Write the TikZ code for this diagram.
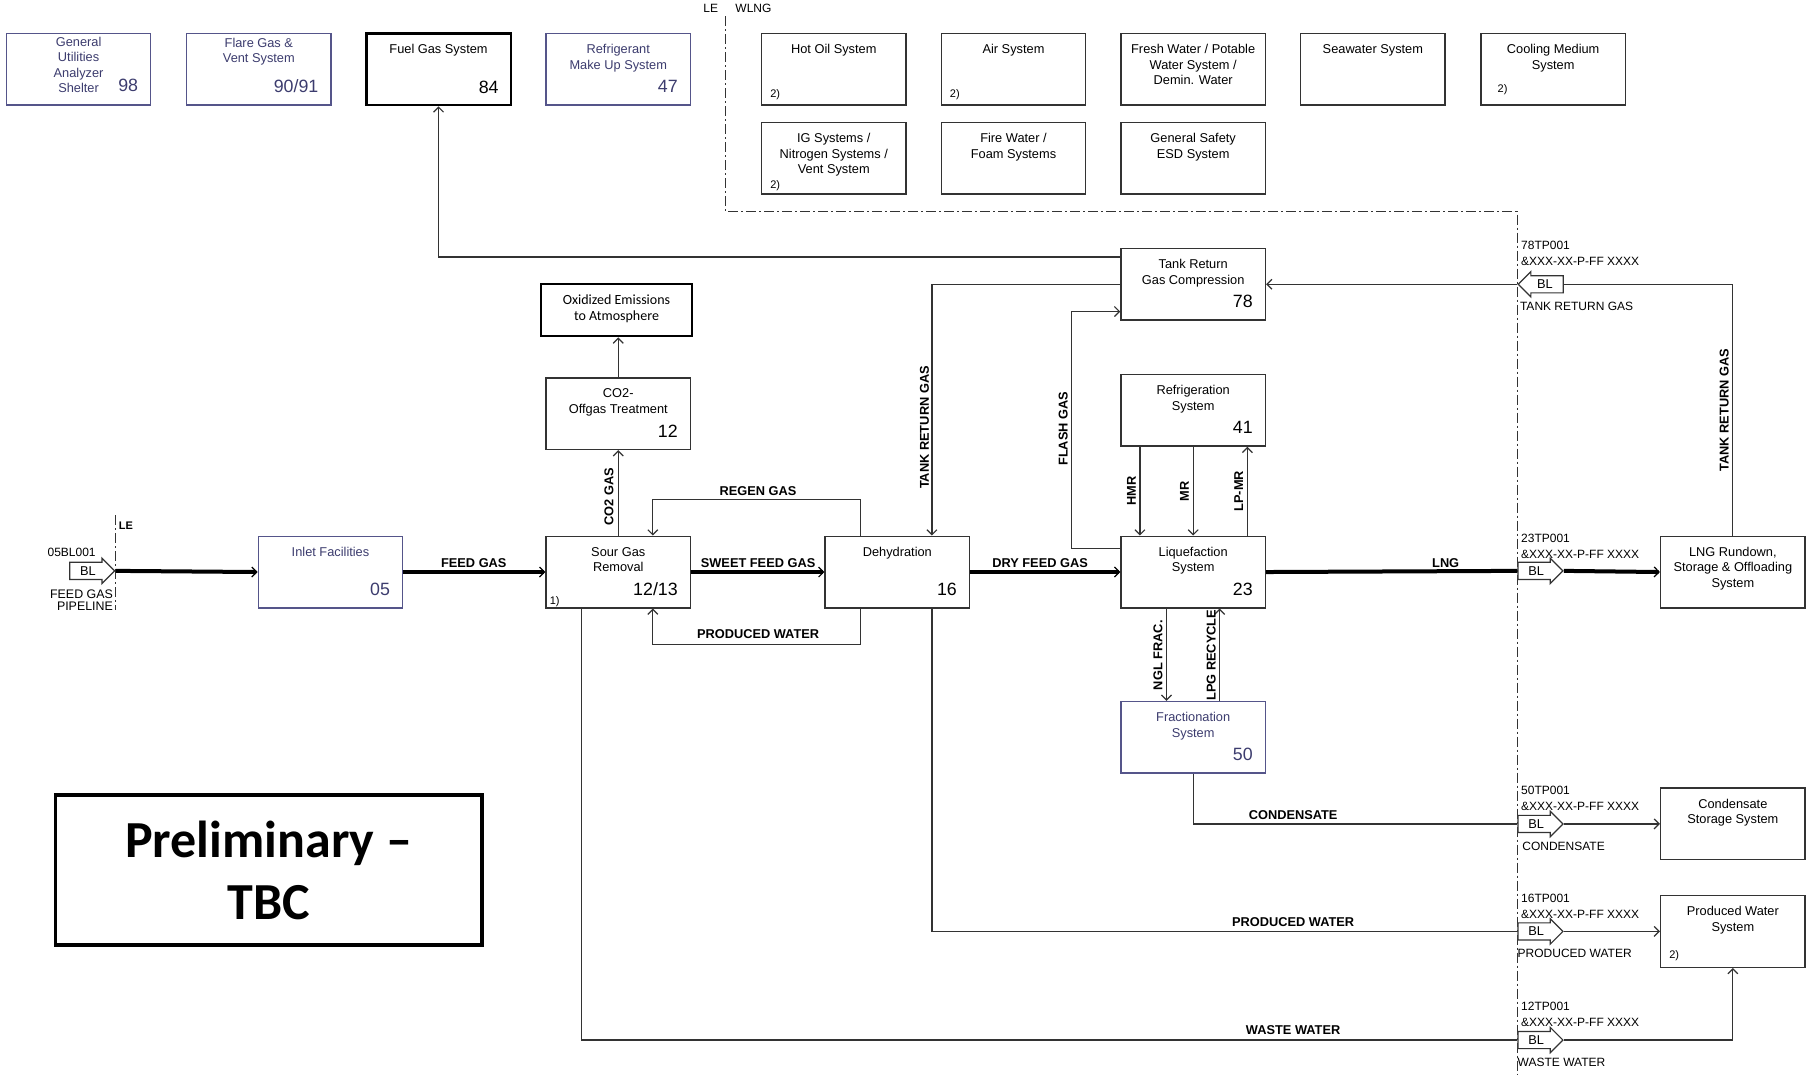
\documentclass[tikz,border=0pt]{standalone}
\usepackage{fontspec}
\setmainfont{Liberation Sans}
\newfontfamily\calfont{Carlito}
\usetikzlibrary{arrows.meta,calc,shapes.arrows}
\definecolor{ln}{HTML}{333333}
\definecolor{bluec}{HTML}{55558A}
\definecolor{bluetxt}{HTML}{3C3C6E}
\tikzset{
  box/.style={draw=ln, line width=0.7pt, minimum width=72.2pt, minimum height=35.8pt, inner sep=0pt},
  bluebox/.style={box, draw=bluec},
  heavybox/.style={box, draw=black, line width=1.2pt},
  ttl/.style={font=\fontsize{6.4}{7.7}\selectfont, align=center, inner sep=0pt, anchor=north},
  num/.style={font=\fontsize{8.9}{10}\selectfont, inner sep=0pt, anchor=base east},
  note/.style={font=\fontsize{5.5}{6}\selectfont, inner sep=0pt, anchor=base west},
  conn/.style={draw=ln, line width=0.6pt, -{Straight Barb[length=2.5pt,width=5pt]}},
  plainln/.style={draw=ln, line width=0.6pt},
  mainflow/.style={draw=black, line width=2pt},
  mainarrow/.style={mainflow, -{Straight Barb[length=2.5pt,width=5pt,line width=0.6pt]}},
  lab/.style={font=\bfseries\fontsize{6.4}{7}\selectfont, inner sep=0pt},
  vlab/.style={lab, rotate=90},
  blshape/.style={single arrow, draw=ln, line width=0.6pt, fill=white, minimum height=22.5pt,
    minimum width=12.7pt, single arrow head extend=1.2pt, single arrow tip angle=90,
    inner sep=0pt, font=\fontsize{6.4}{7}\selectfont},
  tag/.style={font=\fontsize{6}{7}\selectfont, inner sep=0pt, anchor=west},
  boundary/.style={draw=ln, line width=0.6pt, dash pattern=on 5pt off 1.5pt on 1pt off 1.5pt},
}
\newcommand\mkbox[6]{%
  \node[#2] (#1) at (#3) {};
  \node[ttl,#4] (#1-t) at ([yshift=-5.6pt]#1.north) {#5};
  \node[num,#4] (#1-n) at ([xshift=-6.5pt,yshift=6.5pt]#1.south east) {#6};
}
\begin{document}
\begin{tikzpicture}[x=0.5778pt,y=-0.5778pt]
\useasboundingbox (0,0) rectangle (1568,930);
\fill[white] (0,0) rectangle (1568,930);

% ---------- top row ----------
\node[bluebox] (gu) at (68,60) {};
\node[ttl,bluetxt] (gu-t) at ([yshift=-2pt]gu.north) {General\\Utilities\\Analyzer\\Shelter};
\node[num,bluetxt] (gu-n) at ([xshift=-6.5pt,yshift=7pt]gu.south east) {98};
\node[bluebox] (flare) at (224,60) {};
\node[ttl,bluetxt] (flare-t) at ([yshift=-2.5pt]flare.north) {Flare Gas \&\\Vent System};
\node[num,bluetxt] (flare-n) at ([xshift=-6.5pt,yshift=6.5pt]flare.south east) {90/91};
\mkbox{fuelgas}{heavybox}{379.5,60}{}{Fuel Gas System}{84}
\mkbox{refmk}{bluebox}{535,60}{bluetxt}{Refrigerant\\Make Up System}{47}

\mkbox{hotoil}{box}{721.5,60}{}{Hot Oil System}{}
\mkbox{air}{box}{877,60}{}{Air System}{}
\mkbox{fresh}{box}{1032.5,60}{}{Fresh Water / Potable\\Water System /\\Demin. Water}{}
\mkbox{sea}{box}{1188,60}{}{Seawater System}{}
\mkbox{cool}{box}{1344,60}{}{Cooling Medium\\System}{}
\mkbox{ig}{box}{721.5,137}{}{IG Systems /\\Nitrogen Systems /\\Vent System}{}
\mkbox{fire}{box}{877,137}{}{Fire Water /\\Foam Systems}{}
\mkbox{safety}{box}{1032.5,137}{}{General Safety\\ESD System}{}
\node[note] (hotoil-x) at ([xshift=4.5pt,yshift=4pt]hotoil.south west) {2)};
\node[note] (air-x) at ([xshift=4.5pt,yshift=4pt]air.south west) {2)};
\node[note] (cool-x) at ([xshift=8.5pt,yshift=6.5pt]cool.south west) {2)};
\node[note] (ig-x) at ([xshift=4.5pt,yshift=3pt]ig.south west) {2)};

% boundary
\coordinate (bA) at (628,14);
\coordinate (bB) at (1313,930);
\draw[boundary] (bA) |- (1313,183) -- (bB);
\node[font=\fontsize{6}{7}\selectfont, inner sep=0pt] (le1) at (615,7) {LE};
\node[font=\fontsize{6}{7}\selectfont, inner sep=0pt] (wlng) at (652,7) {WLNG};
\coordinate (lA) at (100,446);
\coordinate (lB) at (100,528);
\draw[boundary] (lA) -- (lB);
\node[font=\bfseries\fontsize{5.5}{6}\selectfont, inner sep=0pt] (le2) at (109,455) {LE};

% ---------- main row ----------
\mkbox{inlet}{bluebox}{286,495}{bluetxt}{Inlet Facilities}{05}
\mkbox{sour}{box}{535,495}{}{Sour Gas\\Removal}{12/13}
\mkbox{dehy}{box}{776.5,495}{}{Dehydration}{16}
\mkbox{liq}{box}{1032.5,495}{}{Liquefaction\\System}{23}
\mkbox{lngr}{box}{1499.5,495}{}{LNG Rundown,\\Storage \& Offloading\\System}{}
\mkbox{co2}{box}{535,358}{}{CO2-\\Offgas Treatment}{12}
\mkbox{tank}{box}{1032.5,246}{}{Tank Return\\Gas Compression}{78}
\mkbox{refr}{box}{1032.5,355}{}{Refrigeration\\System}{41}
\mkbox{frac}{bluebox}{1032.5,638}{bluetxt}{Fractionation\\System}{50}
\mkbox{condst}{box}{1499.5,713}{}{Condensate\\Storage System}{}
\mkbox{pwbox}{box}{1499.5,806}{}{Produced Water\\System}{}
\node[note] (sour-x) at ([xshift=2pt,yshift=2pt]sour.south west) {1)};
\node[note] (pw-x) at ([xshift=4.5pt,yshift=4.5pt]pwbox.south west) {2)};

\node[draw=black, line width=1.2pt, minimum width=75.7pt, minimum height=26pt, inner sep=0pt] (oxid) at (533.5,268.5) {};
\node[font=\calfont\fontsize{7}{8.1}\selectfont, align=center, inner sep=0pt, anchor=north] (oxid-t) at ([yshift=-5.5pt]oxid.north) {Oxidized Emissions\\to Atmosphere};

% BL markers
\node[blshape, anchor=tip] (bl05) at (100,494) {BL};
\node[blshape, shape border rotate=180, anchor=tip] (bl78) at (1313,246) {BL};
\node[blshape, anchor=tail] (bl23) at (1313,494) {BL};
\node[blshape, anchor=tail] (bl50) at (1313,713) {BL};
\node[blshape, anchor=tail] (bl16) at (1313,806) {BL};
\node[blshape, anchor=tail] (bl12) at (1313,900) {BL};

% BL tags
\node[font=\fontsize{6}{7}\selectfont, inner sep=0pt] (t05a) at (62,478) {05BL001};
\node[font=\fontsize{6.2}{7}\selectfont, inner sep=0pt, anchor=east] (t05b) at (98,514) {FEED GAS};
\node[font=\fontsize{6.2}{7}\selectfont, inner sep=0pt, anchor=east] (t05c) at (98,525) {PIPELINE};
\node[tag] (t78a) at (1316,212) {78TP001};
\node[tag] (t78b) at (1316,226) {\&XXX-XX-P-FF XXXX};
\node[tag] (t78c) at (1315,265) {TANK RETURN GAS};
\node[tag] (t23a) at (1316,466) {23TP001};
\node[tag] (t23b) at (1316,480) {\&XXX-XX-P-FF XXXX};
\node[tag] (t50a) at (1316,684) {50TP001};
\node[tag] (t50b) at (1316,698) {\&XXX-XX-P-FF XXXX};
\node[tag] (t50c) at (1317,732) {CONDENSATE};
\node[tag] (t16a) at (1316,777) {16TP001};
\node[tag] (t16b) at (1316,791) {\&XXX-XX-P-FF XXXX};
\node[tag] (t16c) at (1313,825) {PRODUCED WATER};
\node[tag] (t12a) at (1316,871) {12TP001};
\node[tag] (t12b) at (1316,885) {\&XXX-XX-P-FF XXXX};
\node[tag] (t12c) at (1313,919) {WASTE WATER};

% ---------- connectors ----------
\draw[mainarrow] (bl05.tip) -- (inlet.west);
\draw[mainarrow] (inlet.east) -- (sour.west);
\draw[mainarrow] (sour.east) -- (dehy.west);
\draw[mainarrow] (dehy.east) -- (liq.west);
\draw[mainflow] (liq.east) -- (bl23.tail);
\draw[mainarrow] (bl23.tip) -- (lngr.west);

\draw[conn] (sour.north) -- (co2.south);
\draw[conn] (co2.north) -- (co2.north |- oxid.south);
\draw[conn] ($(dehy.north west)+(31,0)$) -- ++(0,-31) -| ($(sour.north west)+(93,0)$);
\draw[conn] ($(dehy.south west)+(31,0)$) -- ++(0,31) -| ($(sour.south west)+(93,0)$);
\draw[conn] (tank.west) -| ($(dehy.north west)+(93,0)$);
\draw[conn] ($(tank.north west)+(0,8)$) -| (fuelgas.south);
\draw[conn] ($(liq.north west)+(0,11)$) -- ++(-42,0) |- ($(tank.south west)+(0,-8)$);
\draw[conn] ($(refr.south west)+(17,0)$) -- ($(liq.north west)+(17,0)$);
\draw[conn] (refr.south) -- (liq.north);
\draw[conn] ($(liq.north west)+(110,0)$) -- ($(refr.south west)+(110,0)$);
\draw[conn] ($(liq.south west)+(40,0)$) -- ($(frac.north west)+(40,0)$);
\draw[conn] ($(frac.north west)+(86,0)$) -- ($(liq.south west)+(86,0)$);
\draw[plainln] (frac.south) |- (bl50.tail);
\draw[conn] (bl50.tip) -- (condst.west);
\draw[plainln] ($(dehy.south west)+(93,0)$) |- (bl16.tail);
\draw[conn] (bl16.tip) -- (pwbox.west);
\draw[plainln] ($(sour.south west)+(31,0)$) |- (bl12.tail);
\draw[conn] (bl12.tip) -| (pwbox.south);
\draw[plainln] (lngr.north) |- (bl78.tail);
\draw[conn] (bl78.tip) -- (tank.east);

% ---------- connector labels ----------
\node[lab] (lfeed) at (410,487) {FEED GAS};
\node[lab] (lsweet) at (656,487) {SWEET FEED GAS};
\node[lab] (ldry) at (900,487) {DRY FEED GAS};
\node[lab] (llng) at (1251,487) {LNG};
\node[vlab] (lco2) at (527,430) {CO2 GAS};
\node[lab] (lregen) at (656,425) {REGEN GAS};
\node[lab] (lpw1) at (656,549) {PRODUCED WATER};
\node[vlab] (ltrg1) at (800,370) {TANK RETURN GAS};
\node[vlab] (lflash) at (920,371) {FLASH GAS};
\node[vlab] (lhmr) at (979,425) {HMR};
\node[vlab] (lmr) at (1025,425) {MR};
\node[vlab] (llpmr) at (1072,425) {LP-MR};
\node[vlab] (lngl) at (1002,567) {NGL FRAC.};
\node[vlab] (llpg) at (1048,567) {LPG RECYCLE};
\node[lab] (lcond) at (1119,705) {CONDENSATE};
\node[lab] (lpw2) at (1119,798) {PRODUCED WATER};
\node[lab] (lww) at (1119,891) {WASTE WATER};
\node[vlab] (ltrg2) at (1492,355) {TANK RETURN GAS};

% ---------- preliminary ----------
\node[draw=black, line width=1.8pt, minimum width=213.2pt, minimum height=75.1pt, align=center,
  font=\calfont\bfseries\fontsize{26}{31}\selectfont] (prelim) at (232.5,753) {Preliminary –\\TBC};
\end{tikzpicture}
\end{document}
